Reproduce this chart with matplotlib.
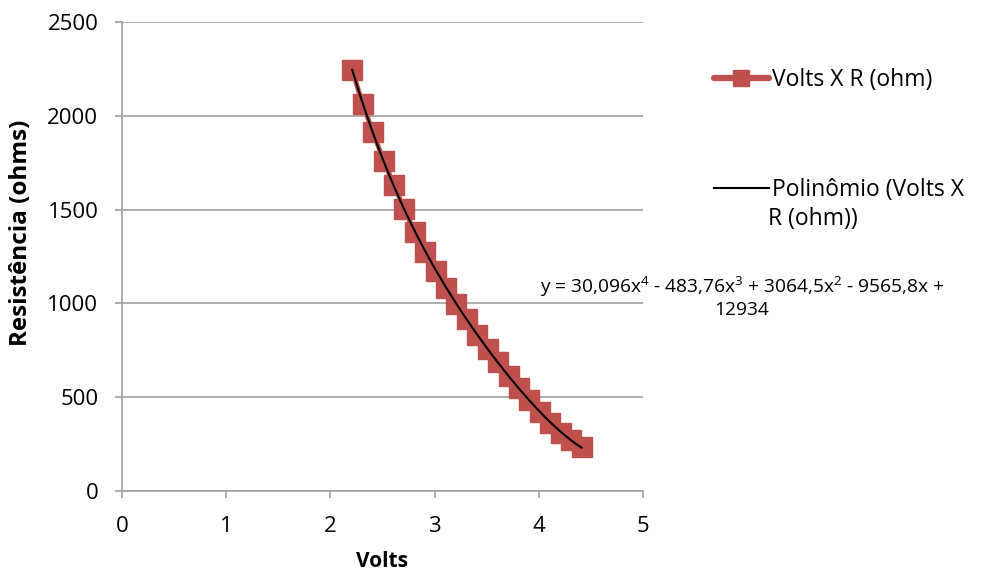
import numpy as np
import matplotlib
matplotlib.use('Agg')
import matplotlib.pyplot as plt
from matplotlib.lines import Line2D

plt.rcParams['font.family'] = ['Open Sans', 'DejaVu Sans']
plt.rcParams['mathtext.fontset'] = 'custom'
plt.rcParams['mathtext.rm'] = 'Open Sans'
plt.rcParams['mathtext.it'] = 'Open Sans'

# values
volts = [2.21, 2.31, 2.41, 2.51, 2.61, 2.71, 2.81, 2.91, 3.01, 3.11, 3.21, 3.31,
         3.41, 3.51, 3.61, 3.71, 3.81, 3.91, 4.01, 4.11, 4.21, 4.31, 4.41]
resist = [2244, 2061, 1912, 1761, 1631, 1502, 1379, 1276, 1173, 1082, 997, 917,
          832, 757, 688, 613, 549, 485, 421, 362, 309, 272, 235]
x_ticks = [0, 1, 2, 3, 4, 5]
y_ticks = [0, 500, 1000, 1500, 2000, 2500]

red = '#C0504D'
grey = '#A0A0A0'

fig = plt.figure(figsize=(9.9, 5.76), dpi=100)
ax = fig.add_axes([0.1232, 0.1476, 0.5263, 0.8142])

ax.plot(volts, resist, color=red, lw=3.5, marker='s', ms=14, mec=red, mfc=red,
        solid_capstyle='round', zorder=3)

# 4th order trend line, fitted like the spreadsheet does
coef = np.polyfit(volts, resist, 4)
xs = np.linspace(min(volts), max(volts), 200)
ax.plot(xs, np.polyval(coef, xs), color='black', lw=1.5, zorder=4)

ax.set_xlim(0, 5)
ax.set_ylim(0, 2500)
ax.set_xticks(x_ticks)
ax.set_yticks(y_ticks)
ax.yaxis.grid(True, color=grey, lw=1.2)
ax.set_axisbelow(True)
for s in ['top', 'right']:
    ax.spines[s].set_visible(False)
for s in ['left', 'bottom']:
    ax.spines[s].set_color(grey)
    ax.spines[s].set_linewidth(1.2)
ax.tick_params(colors=grey, labelcolor='black', labelsize=16, length=5, width=1.2)
ax.tick_params(axis='x', pad=13)
ax.tick_params(axis='y', pad=12)

ax.set_xlabel('Volts', fontsize=15, fontweight='bold', labelpad=10)
ax.set_ylabel('Resistência (ohms)', fontsize=17.5, fontweight='bold')
ax.yaxis.set_label_coords(-0.171, 0.55)

handles = [Line2D([], [], color=red, lw=4.5, marker='s', ms=12, solid_capstyle='round'),
           Line2D([], [], color='black', lw=1.5)]
labels = ['Volts X R (ohm)', 'Polinômio (Volts X']
fig.legend(handles, labels, loc='upper left', bbox_to_anchor=(0.705, 0.91),
           frameon=False, fontsize=16.5, handlelength=2.4, handletextpad=0.15,
           labelspacing=3.75, borderpad=0.2)
fig.text(0.7758, 0.6200, 'R (ohm))', fontsize=16.5, ha='left', va='center')

eq = (r'y = 30,096x$^{4}$ - 483,76x$^{3}$ + 3064,5x$^{2}$ - 9565,8x +' + '\n12934')
fig.text(0.7495, 0.4844, eq, fontsize=13.8, ha='center', va='center',
         multialignment='center', linespacing=1.1)

fig.savefig('out.png', dpi=100)
